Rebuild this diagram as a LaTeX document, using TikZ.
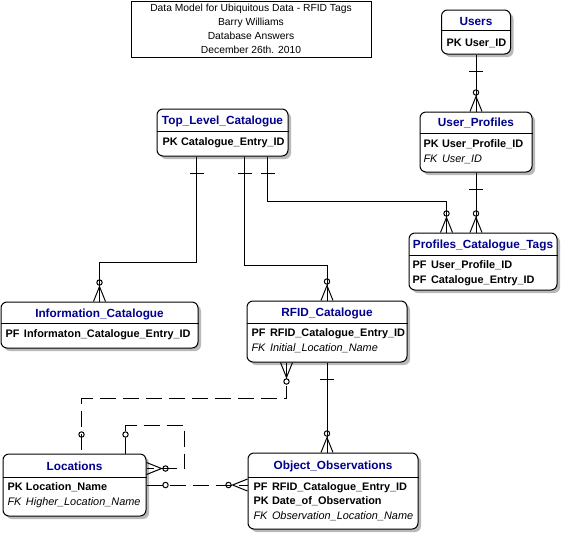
\documentclass[tikz,border=0pt]{standalone}
\usepackage{fontspec}
\setmainfont{Liberation Sans}
\usepackage{tikz}
\usepackage{xcolor}
\usetikzlibrary{positioning,shadows}

\definecolor{entname}{RGB}{0,0,140}
\newcommand\keycol[1]{\makebox[18.5pt][l]{#1}}

\tikzset{
  entity/.style={draw,rounded corners=6pt,fill=white,inner sep=0pt,line width=1pt,
    drop shadow={shadow xshift=3pt,shadow yshift=-3pt,fill=gray!55,opacity=1}},
  head/.style={inner sep=0pt,text height=8pt,text depth=0pt,text=entname,
    font=\bfseries\fontsize{11.8}{13}\selectfont},
  row/.style={anchor=west,inner sep=0pt,text height=7.8pt,text depth=0pt,
    font=\bfseries\fontsize{10.9}{13}\selectfont},
  fkrow/.style={row,font=\itshape\fontsize{10.9}{13}\selectfont},
  optrel/.style={dash pattern=on 16pt off 7pt},
  one/.pic={\draw[solid] (17,-7) -- (17,7);},
  zmany/.pic={\draw[solid] (0,-6) -- (15,0) -- (0,6); \draw[solid] (19,0) circle (2.7);},
  zero/.pic={\draw[solid] (19,0) circle (2.7);}
}

\begin{document}
\begin{tikzpicture}[x=1pt,y=-1pt,line width=1pt]
\useasboundingbox (0,0) rectangle (564,536);

% title block
\node [draw,minimum width=240,minimum height=56,inner sep=0pt,align=center,
  font=\fontsize{10.3}{14}\selectfont] (title) at (251,29)
  {Data Model for Ubiquitous Data - RFID Tags\\Barry Williams\\Database Answers\\December 26th. 2010};

% entities
\node [entity,minimum width=69,minimum height=44] (users) at (476,32) {};
\node [entity,minimum width=112,minimum height=60] (uprof) at (476,142) {};
\node [entity,minimum width=148,minimum height=57] (pct) at (483,261.5) {};
\node [entity,minimum width=131,minimum height=47] (tlc) at (222.5,132.5) {};
\node [entity,minimum width=197,minimum height=46] (infocat) at (99.5,325) {};
\node [entity,minimum width=160,minimum height=61] (rfid) at (327,331.5) {};
\node [entity,minimum width=143,minimum height=62] (loc) at (74.5,485) {};
\node [entity,minimum width=170,minimum height=76] (obs) at (333,491) {};

\draw (users.west |- 0,30) -- (users.east |- 0,30)
      (uprof.west |- 0,133) -- (uprof.east |- 0,133)
      (pct.west |- 0,255) -- (pct.east |- 0,255)
      (tlc.west |- 0,131) -- (tlc.east |- 0,131)
      (infocat.west |- 0,323) -- (infocat.east |- 0,323)
      (rfid.west |- 0,323) -- (rfid.east |- 0,323)
      (loc.west |- 0,477) -- (loc.east |- 0,477)
      (obs.west |- 0,477) -- (obs.east |- 0,477);

\node [head,below=7pt of users.north] (users-h) {Users};
\node [head,below=6pt of uprof.north] (uprof-h) {User\_Profiles};
\node [head,below=7pt of pct.north] (pct-h) {Profiles\_Catalogue\_Tags};
\node [head,below=7pt of tlc.north] (tlc-h) {Top\_Level\_Catalogue};
\node [head,below=7pt of infocat.north] (infocat-h) {Information\_Catalogue};
\node [head,below=7pt of rfid.north] (rfid-h) {RFID\_Catalogue};
\node [head,below=8pt of loc.north] (loc-h) {Locations};
\node [head,below=8pt of obs.north] (obs-h) {Object\_Observations};

\node [row] (users-r1) at (446,43) {\keycol{PK}User\_ID};
\node [row] (uprof-r1) at (423,144) {\keycol{PK}User\_Profile\_ID};
\node [fkrow] (uprof-r2) at (423,159) {\keycol{FK}User\_ID};
\node [row] (pct-r1) at (412,265) {\keycol{PF}User\_Profile\_ID};
\node [row] (pct-r2) at (412,280) {\keycol{PF}Catalogue\_Entry\_ID};
\node [row] (tlc-r1) at (162,142) {\keycol{PK}Catalogue\_Entry\_ID};
\node [row] (infocat-r1) at (5,334) {\keycol{PF}Informaton\_Catalogue\_Entry\_ID};
\node [row] (rfid-r1) at (251,333) {\keycol{PF}RFID\_Catalogue\_Entry\_ID};
\node [fkrow] (rfid-r2) at (251,348) {\keycol{FK}Initial\_Location\_Name};
\node [row] (loc-r1) at (7,487) {\keycol{PK}Location\_Name};
\node [fkrow] (loc-r2) at (7,502) {\keycol{FK}Higher\_Location\_Name};
\node [row] (obs-r1) at (253,487) {\keycol{PF}RFID\_Catalogue\_Entry\_ID};
\node [row] (obs-r2) at (253,501) {\keycol{PK}Date\_of\_Observation};
\node [fkrow] (obs-r3) at (253,516) {\keycol{FK}Observation\_Location\_Name};

% connector ends
\coordinate (tlc-a) at ([xshift=40pt]tlc.south west);
\coordinate (tlc-b) at ([xshift=88pt]tlc.south west);
\coordinate (tlc-c) at ([xshift=111pt]tlc.south west);
\coordinate (pct-a) at ([xshift=38pt]pct.north west);
\coordinate (rfid-b) at ([xshift=40pt]rfid.south west);
\coordinate (loc-a) at ([xshift=79pt]loc.north west);
\coordinate (loc-b) at ([xshift=123pt]loc.north west);
\coordinate (loc-c) at ([yshift=-15pt]loc.north east);

% relationships
\draw (users.south) -- (uprof.north);
\draw (uprof.south) -- (uprof.south |- pct.north);
\draw (tlc-c) -- ++(0,45) -| (pct-a);
\draw (tlc-a) -- ++(0,106) -| (infocat.north);
\draw (tlc-b) -- ++(0,109) -| (rfid.north);
\draw (rfid.south) -- (rfid.south |- obs.north);
\draw [optrel] (rfid-b) -- ++(0,36) -| (loc-a);
\draw [optrel] (loc-b) -- ++(0,-28) -- ++(59,0) |- (loc-c);
\draw [optrel] (loc.east) -- (loc.east -| obs.west);

\path (users.south) pic [rotate=-90] {one}
      (uprof.north) pic [rotate=90] {zmany}
      (uprof.south) pic [rotate=-90] {one}
      (uprof.south |- pct.north) pic [rotate=90] {zmany}
      (tlc-a) pic [rotate=-90] {one}
      (tlc-b) pic [rotate=-90] {one}
      (tlc-c) pic [rotate=-90] {one}
      (pct-a) pic [rotate=90] {zmany}
      (infocat.north) pic [rotate=90] {zmany}
      (rfid.north) pic [rotate=90] {zmany}
      (rfid.south) pic [rotate=-90] {one}
      (rfid.south |- obs.north) pic [rotate=90] {zmany}
      (rfid-b) pic [rotate=-90] {zmany}
      (loc-a) pic [rotate=90] {zero}
      (loc-b) pic [rotate=90] {zero}
      (loc-c) pic {zmany}
      (loc.east) pic {zero}
      (loc.east -| obs.west) pic [rotate=180] {zmany};
\end{tikzpicture}
\end{document}
